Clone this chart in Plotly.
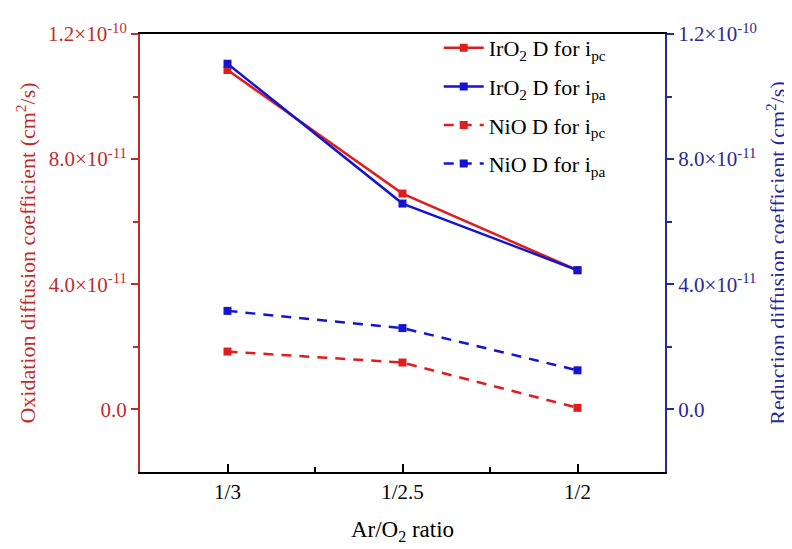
import plotly.graph_objects as go

categories = ["1/3", "1/2.5", "1/2"]
iro2_ipc = [1.085e-10, 6.9e-11, 4.45e-11]
iro2_ipa = [1.105e-10, 6.58e-11, 4.45e-11]
nio_ipc = [1.85e-11, 1.5e-11, 0.05e-11]
nio_ipa = [3.15e-11, 2.6e-11, 1.25e-11]
ytick_vals = [0, 4e-11, 8e-11, 1.2e-10]
ytick_text = ["0.0", "4.0×10<sup>-11</sup>", "8.0×10<sup>-11</sup>", "1.2×10<sup>-10</sup>"]
yminor_vals = [2e-11, 6e-11, 1e-10]

RED = "rgb(222,30,30)"
BLUE = "rgb(20,20,210)"
RED_TXT = "rgb(190,45,45)"
BLUE_TXT = "rgb(40,40,150)"
FONT = "Liberation Serif"

xs = list(range(len(categories)))

fig = go.Figure()
fig.add_trace(go.Scatter(x=xs, y=iro2_ipc, mode="lines+markers", yaxis="y",
                         name="IrO<sub>2</sub> D for i<sub>pc</sub>", legendgroup="a",
                         line=dict(color=RED, width=2.5), marker=dict(symbol="square", size=8, color=RED)))
fig.add_trace(go.Scatter(x=xs, y=iro2_ipa, mode="lines+markers", yaxis="y2",
                         name="IrO<sub>2</sub> D for i<sub>pa</sub>", legendgroup="b",
                         line=dict(color=BLUE, width=2.5), marker=dict(symbol="square", size=8, color=BLUE)))
fig.add_trace(go.Scatter(x=xs, y=nio_ipc, mode="lines+markers", yaxis="y",
                         name="NiO D for i<sub>pc</sub>", legendgroup="c",
                         line=dict(color=RED, width=2.5, dash="10px,8px"),
                         marker=dict(symbol="square", size=8, color=RED)))
fig.add_trace(go.Scatter(x=xs, y=nio_ipa, mode="lines+markers", yaxis="y2",
                         name="NiO D for i<sub>pa</sub>", legendgroup="d",
                         line=dict(color=BLUE, width=2.5, dash="10px,8px"),
                         marker=dict(symbol="square", size=8, color=BLUE)))

fig.update_layout(
    width=792, height=549,
    margin=dict(l=132, r=135, t=16, b=85),
    paper_bgcolor="white", plot_bgcolor="white",
    font=dict(family=FONT, size=20, color="black"),
    showlegend=True,
    legend=dict(x=0.569, y=1.016, xanchor="left", yanchor="top",
                font=dict(family=FONT, size=22, color="black"),
                bgcolor="rgba(0,0,0,0)", tracegroupgap=7, itemwidth=40),
    xaxis=dict(range=[-0.5, 2.5], tickmode="array", tickvals=xs, ticktext=categories,
               showline=True, linecolor="black", linewidth=2, mirror=True,
               ticks="inside", ticklen=8, tickwidth=1.5, tickcolor="black",
               minor=dict(tickmode="array", tickvals=[0.5, 1.5], ticks="inside", ticklen=5,
                          tickwidth=1.5, tickcolor="black"),
               showgrid=False, zeroline=False,
               tickfont=dict(family=FONT, size=21, color="black"),
               title=dict(text="Ar/O<sub>2</sub> ratio", font=dict(family=FONT, size=23, color="black"),
                          standoff=18)),
    yaxis=dict(range=[-2e-11, 1.2e-10], tickmode="array", tickvals=ytick_vals, ticktext=ytick_text,
               showline=True, linecolor=RED_TXT, linewidth=2,
               ticks="outside", ticklen=7, tickwidth=1.5, tickcolor=RED_TXT,
               minor=dict(tickmode="array", tickvals=yminor_vals, ticks="outside", ticklen=5,
                          tickwidth=1.5, tickcolor=RED_TXT),
               showgrid=False, zeroline=False,
               tickfont=dict(family=FONT, size=21, color=RED_TXT),
               title=dict(text="Oxidation diffusion coefficient (cm<sup>2</sup>/s)",
                          font=dict(family=FONT, size=22, color=RED_TXT), standoff=6)),
    yaxis2=dict(range=[-2e-11, 1.2e-10], overlaying="y", side="right", anchor="x",
                tickmode="array", tickvals=ytick_vals, ticktext=ytick_text,
                showline=True, linecolor=BLUE_TXT, linewidth=2,
                ticks="outside", ticklen=7, tickwidth=1.5, tickcolor=BLUE_TXT,
                minor=dict(tickmode="array", tickvals=yminor_vals, ticks="outside", ticklen=5,
                           tickwidth=1.5, tickcolor=BLUE_TXT),
                showgrid=False, zeroline=False,
                tickfont=dict(family=FONT, size=21, color=BLUE_TXT),
                title=dict(text="Reduction diffusion coefficient (cm<sup>2</sup>/s)",
                           font=dict(family=FONT, size=22, color=BLUE_TXT), standoff=14)),
)

fig.write_html("out.html")
